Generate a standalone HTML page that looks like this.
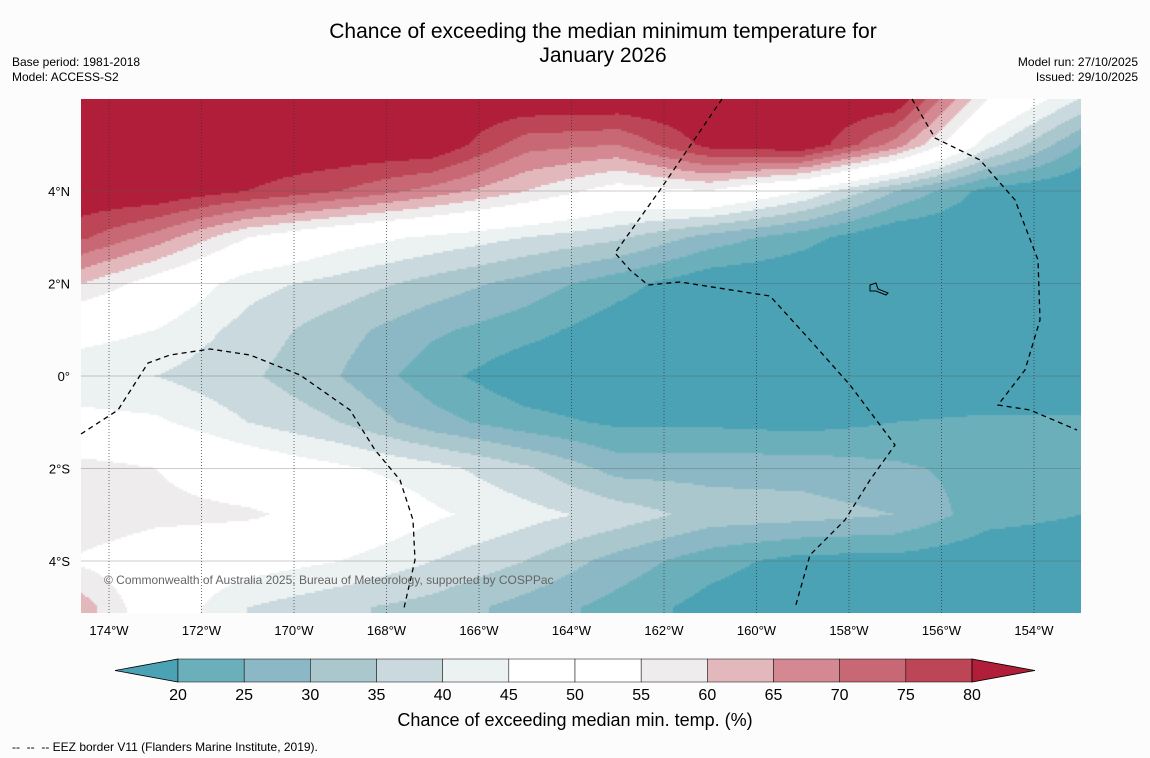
<!DOCTYPE html>
<html><head><meta charset="utf-8"><style>
body{margin:0;background:#fcfcfc;font-family:"Liberation Sans",sans-serif;}
#wrap{position:relative;width:1150px;height:758px;overflow:hidden;background:#fcfcfc;}
.t{position:absolute;color:#000;white-space:nowrap;}
</style></head><body>
<div id="wrap">
<div class="t" style="left:0;width:1206px;top:20px;font-size:21px;text-align:center;line-height:24px;">Chance of exceeding the median minimum temperature for<br>January 2026</div>
<div class="t" style="left:12px;top:55px;font-size:12px;line-height:15px;">Base period: 1981-2018<br>Model: ACCESS-S2</div>
<div class="t" style="right:12px;top:55px;font-size:12px;line-height:15px;text-align:right;">Model run: 27/10/2025<br>Issued: 29/10/2025</div>
<canvas id="map" width="1000" height="514" style="position:absolute;left:81px;top:99px;"></canvas>
<svg id="ov" width="1150" height="758" style="position:absolute;left:0;top:0;"></svg>
<div class="t" style="left:0;width:1150px;text-align:center;top:710px;font-size:18px;">Chance of exceeding median min. temp. (%)</div>
<div class="t" style="left:12px;top:740px;font-size:12px;">-- &nbsp;-- &nbsp;-- EEZ border V11 (Flanders Marine Institute, 2019).</div>
</div>
<script>
const lons=[-175,-173,-171,-169,-167,-165,-163,-161,-159,-157,-155,-153];
const lats=[6,5,4,3,2,1,0,-1,-2,-3,-4,-5];
const r6=[85,85,85,85,85,85,85,85,85,85,55,40];
const r5=[85,85,85,85,85,72,70,82,85,68,42,25];
const r4=[85,85,80,75,68,60,52,55,45,30,18,15];
const r3=[78,68,55,48,44,40,36,28,22,15,15,15];
const r2=[62,52,42,38,33,28,22,16,15,15,15,15];
const r1=[48,45,38,32,26,22,17,15,15,15,15,15];
const r0=[42,40,36,30,22,16,15,15,15,15,15,15];
const rm1=[47,46,40,35,27,22,19,19,18,20,21,21];
const rm2=[58,55,50,46,42,36,28,28,28,26,23,22];
const rm3=[60,57,56,52,46,42,38,33,32,30,22,20];
const rm4=[55,50,48,45,40,35,28,22,18,18,16,16];
const rm5=[66,50,40,36,33,28,23,18,16,16,16,16];
const grid=[r6,r5,r4,r3,r2,r1,r0,rm1,rm2,rm3,rm4,rm5];
const levels=[20,25,30,35,40,45,50,55,60,65,70,75,80];
const colors=["#4aa2b4","#6aafba","#8bb8c4","#a9c7cc","#c9d9dd","#ecf1f2","#ffffff","#ffffff","#eeecec","#e3b8bd","#d48891","#c76874","#bc4656","#b01e3a"];
const xTicks=[-174,-172,-170,-168,-166,-164,-162,-160,-158,-156,-154];
const yTicks=[4,2,0,-2,-4];
const PX=46.25;
function xOf(lon){return 109+(lon+174)*PX;}
function yOf(lat){return 376-lat*PX;}
function lonOf(x){return (x-109)/PX-174;}
function latOf(y){return (376-y)/PX;}
function val(lon,lat){
  let fi=(lon-lons[0])/(lons[1]-lons[0]);let fj=(lats[0]-lat)/(lats[0]-lats[1]);
  fi=Math.max(0,Math.min(lons.length-1.0001,fi));fj=Math.max(0,Math.min(lats.length-1.0001,fj));
  const i=Math.floor(fi),j=Math.floor(fj),a=fi-i,b=fj-j;
  return grid[j][i]*(1-a)*(1-b)+grid[j][i+1]*a*(1-b)+grid[j+1][i]*(1-a)*b+grid[j+1][i+1]*a*b;
}
function colorOf(v){let k=0;while(k<levels.length&&v>=levels[k])k++;return colors[k];}
const cv=document.getElementById('map');const ctx=cv.getContext('2d');
const S=2;
for(let py=0;py<514;py+=S){for(let px=0;px<1000;px+=S){
  const v=val(lonOf(px+81+S/2),latOf(py+99+S/2));ctx.fillStyle=colorOf(v);ctx.fillRect(px,py,S,S);}}
const NS='http://www.w3.org/2000/svg';
const svg=document.getElementById('ov');
function mk(tag,at){const e=document.createElementNS(NS,tag);for(const k in at)e.setAttribute(k,at[k]);svg.appendChild(e);return e;}
xTicks.forEach(lon=>{
  const l=mk('line',{x1:xOf(lon),x2:xOf(lon),y1:99,y2:613,stroke:'#333','stroke-width':0.7,'stroke-dasharray':'1,2'});
  
  
  const t=mk('text',{x:xOf(lon),y:635,'font-size':13,'text-anchor':'middle','font-family':'Liberation Sans, sans-serif'});
  t.textContent=Math.abs(lon)+'°W';
  
  
});
yTicks.forEach(lat=>{
  const l=mk('line',{x1:81,x2:1081,y1:yOf(lat),y2:yOf(lat),stroke:'#555','stroke-width':0.5,opacity:0.6});
  
  
  const t=mk('text',{x:70,y:yOf(lat)+5,'font-size':13,'text-anchor':'end','font-family':'Liberation Sans, sans-serif'});
  t.textContent=lat===0?'0°':Math.abs(lat)+'°'+(lat>0?'N':'S');
  
  
});
const eez=[
 "81,434 118,410 148,363 170,355 210,349 250,355 300,375 350,410 375,450 400,480 413,520 415,560 404,608",
 "722,99 660,190 615,253 630,270 648,285 680,282 770,296 810,340 850,385 895,445 870,480 845,520 810,555 795,608",
 "912,99 935,138 980,160 1015,200 1038,260 1040,320 1025,370 998,405 1030,410 1077,430"];
eez.forEach(p=>{const e=mk('polyline',{points:p,fill:'none',stroke:'#000','stroke-width':1.3,'stroke-dasharray':'5,4'});
  
  });
const isl=mk('path',{d:'M870,285 l6,-2 2,6 10,4 -2,2 -10,-4 -6,0z',fill:'none',stroke:'#000','stroke-width':1});


const cp=mk('text',{x:104,y:584,'font-size':12,fill:'#666','font-family':'Liberation Sans, sans-serif'});
cp.textContent='© Commonwealth of Australia 2025, Bureau of Meteorology, supported by COSPPac';


const cbX0=178,cbW=(972-178)/12,cbY=659,cbH=23;
const lt=mk('polygon',{points:`115,${cbY+cbH/2} ${cbX0},${cbY} ${cbX0},${cbY+cbH}`,fill:colors[0],stroke:'#000','stroke-width':0.8});


for(let k=1;k<=12;k++){const r=mk('rect',{x:cbX0+(k-1)*cbW,y:cbY,width:cbW,height:cbH,fill:colors[k],stroke:'#000','stroke-width':0.5});
  
  }
const rt=mk('polygon',{points:`1035,${cbY+cbH/2} 972,${cbY} 972,${cbY+cbH}`,fill:colors[13],stroke:'#000','stroke-width':0.8});


levels.forEach((lv,k)=>{const t=mk('text',{x:cbX0+k*cbW,y:700,'font-size':16,'text-anchor':'middle','font-family':'Liberation Sans, sans-serif'});
  t.textContent=lv;
  
  });
</script>
</body></html>
